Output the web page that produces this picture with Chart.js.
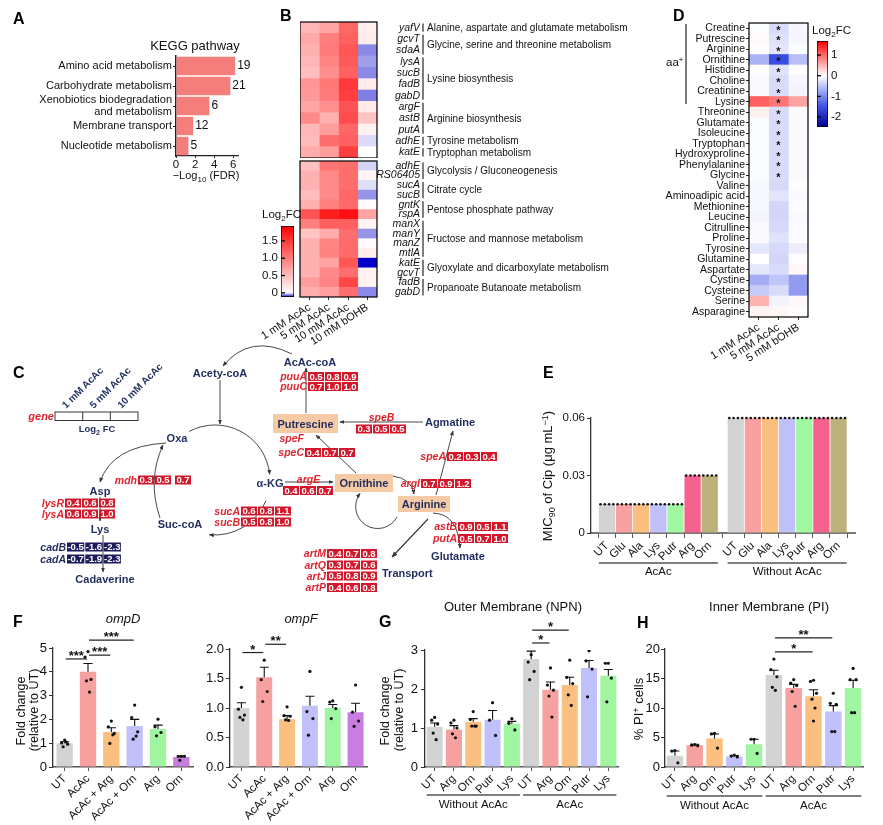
<!DOCTYPE html>
<html><head><meta charset="utf-8"><title>Figure</title>
<script src="https://cdn.jsdelivr.net/npm/chart.js@4.4.1/dist/chart.umd.min.js"></script>
<style>
html,body{margin:0;padding:0;background:#fff}
#page{position:relative;width:883px;height:825px;overflow:hidden;background:#fff}
#page>div{position:absolute}
#ov{position:absolute;left:0;top:0;pointer-events:none}
</style></head>
<body><div id="page"></div>
<script>
// ================= DATA =================
// A: KEGG pathway enrichment
const keggPathways = ['Amino acid metabolism','Carbohydrate metabolism',['Xenobiotics biodegradation','and metabolism'],'Membrane transport','Nucleotide metabolism'];
const keggLog10FDR = [6.2, 5.7, 3.5, 1.8, 1.3];
const keggGeneCounts = [19, 21, 6, 12, 5];
const aTicks = [0, 2, 4, 6];

// B: transcript heatmap (Log2FC)
const heatCols = ['1 mM AcAc','5 mM AcAc','10 mM AcAc','10 mM bOHB'];
const bTopGenes = ['yafV','gcvT','sdaA','lysA','sucB','fadB','gabD','argF','astB','putA','adhE','katE'];
const bTop_1mM  = [0.55,0.65,0.6,0.55,0.5,0.8,0.77,0.68,0.9,0.55,0.52,0.63];
const bTop_5mM  = [0.68,0.98,1.0,0.92,0.85,1.02,1.0,0.85,0.6,0.75,1.1,0.75];
const bTop_10mM = [1.15,1.2,1.28,1.25,1.2,1.5,1.45,1.3,1.35,1.15,1.2,1.45];
const bTop_bOHB = [0.12,0.13,-0.055,-0.045,-0.055,0.15,-0.06,0.15,0.45,0.1,-0.017,0.0];
const bBotGenes = ['adhE','RS06405','sucA','sucB','gntK','rspA','manX','manY','manZ','mtlA','katE','gcvT','fadB','gabD'];
const bBot_1mM  = [0.48,0.6,0.6,0.5,0.6,1.3,0.98,0.45,0.6,0.6,0.6,0.6,0.75,0.62];
const bBot_5mM  = [1.05,0.9,0.9,0.88,0.98,1.7,1.2,0.63,0.92,0.95,0.7,0.9,0.92,0.72];
const bBot_10mM = [1.1,1.1,1.1,1.15,1.12,1.82,1.2,1.1,1.12,1.12,1.28,1.1,1.4,1.1];
const bBot_bOHB = [-0.02,0.08,-0.015,-0.05,0.03,0.7,0.08,-0.05,0.03,0.12,-0.12,0.1,0.1,-0.055];
const bTopPathways = [['Alanine, aspartate and glutamate metabolism',0,1],['Glycine, serine and threonine metabolism',1,2],['Lysine biosynthesis',3,4],['Arginine biosynthesis',7,3],['Tyrosine metabolism',10,1],['Tryptophan metabolism',11,1]];
const bBotPathways = [['Glycolysis / Gluconeogenesis',0,2],['Citrate cycle',2,2],['Pentose phosphate pathway',4,2],['Fructose and mannose metabolism',6,4],['Glyoxylate and dicarboxylate metabolism',10,2],['Propanoate Butanoate metabolism',12,2]];
const bScaleTicks = [0, 0.5, 1.0, 1.5];
const bScaleLabels = ['0','0.5','1.0','1.5'];

// C: pathway Log2FC (1, 5, 10 mM AcAc)
const cLegendCols = ['1 mM AcAc','5 mM AcAc','10 mM AcAc'];
const fc_puuA=[0.5,0.8,0.9], fc_puuC=[0.7,1.0,1.0], fc_speB=[0.3,0.5,0.5], fc_speC=[0.4,0.7,0.7];
const fc_speA=[0.2,0.3,0.4], fc_argE=[0.4,0.6,0.7], fc_argI=[0.7,0.9,1.2], fc_astB=[0.9,0.5,1.1];
const fc_putA=[0.5,0.7,1.0], fc_artM=[0.4,0.7,0.8], fc_artQ=[0.3,0.7,0.6], fc_artJ=[0.5,0.8,0.9];
const fc_artP=[0.4,0.6,0.8], fc_mdh=[0.3,0.5,0.7], fc_lysR=[0.4,0.6,0.8], fc_lysA=[0.6,0.9,1.0];
const fc_cadB=[-0.5,-1.6,-2.3], fc_cadA=[-0.7,-1.9,-2.3], fc_sucA=[0.6,0.8,1.1], fc_sucB=[0.5,0.8,1.0];

// D: metabolite heatmap (Log2FC)
const dCols = ['1 mM AcAc','5 mM AcAc','5 mM bOHB'];
const dMetabolites = ['Creatine','Putrescine','Arginine','Ornithine','Histidine','Choline','Creatinine','Lysine','Threonine','Glutamate','Isoleucine','Tryptophan','Hydroxyproline','Phenylalanine','Glycine','Valine','Aminoadipic acid','Methionine','Leucine','Citrulline','Proline','Tyrosine','Glutamine','Aspartate','Cystine','Cysteine','Serine','Asparagine'];
const d_1mMAcAc = [-0.02,0.03,-0.01,-0.65,-0.01,-0.05,-0.05,1.05,0.1,-0.03,-0.03,-0.03,-0.03,-0.03,-0.03,-0.06,-0.06,-0.06,-0.1,-0.05,-0.05,-0.2,0.0,-0.2,-0.7,-0.45,0.5,0.08];
const d_5mMAcAc = [-0.3,-0.25,-0.22,-1.55,-0.25,-0.3,-0.3,0.9,-0.3,-0.3,-0.3,-0.3,-0.3,-0.3,-0.3,-0.32,-0.22,-0.35,-0.35,-0.32,-0.25,-0.32,-0.35,-0.3,-0.5,-0.3,-0.1,0.06];
const d_5mMbOHB = [-0.08,-0.08,-0.02,-0.55,-0.02,-0.08,-0.1,0.6,-0.05,-0.05,-0.05,-0.05,-0.05,-0.05,-0.05,-0.01,-0.04,-0.03,-0.04,-0.03,-0.03,-0.15,-0.02,0.05,-0.85,-0.85,0.05,0.02];
const d_5mMSig = ['*','*','*','*','*','*','*','*','*','*','*','*','*','*','*','','','','','','','','','','','','',''];
const dScaleTicks = [1, 0, -1, -2];
const dScaleLabels = ['1','0','-1','-2'];

// E: MIC90 of Cip
const eLabels = ['UT','Glu','Ala','Lys','Putr','Arg','Orn','UT','Glu','Ala','Lys','Putr','Arg','Orn'];
const eValues = [0.015,0.015,0.015,0.015,0.015,0.03,0.03,0.06,0.06,0.06,0.06,0.06,0.06,0.06];
const eReplicates = [4,4,4,4,4,4,4,4,4,4,4,4,4,4];
const eGroups = [['AcAc',0,6],['Without AcAc',7,13]];
const eTicks = [0, 0.03, 0.06];
const eTickLabels = ['0','0.03','0.06'];

// F: qPCR
const fCats = ['UT','AcAc','AcAc + Arg','AcAc + Orn','Arg','Orn'];
const ompDMean = [1.0, 4.0, 1.47, 1.72, 1.6, 0.42];
const ompDSem  = [0.06, 0.35, 0.18, 0.28, 0.16, 0.04];
const ompDPoints = [[1.13,1.01,0.96,0.85,1.05],[4.85,4.62,3.68,3.62,3.15],[1.93,1.69,1.41,0.99,1.35],[2.6,2.08,1.48,1.17,1.3],[2.01,1.69,1.45,1.31],[0.45,0.45,0.45,0.28]];
const ompDSig = [[0,1,4.54,'***'],[1,2,4.7,'***'],[1,3,5.33,'***']];
const ompDTicks = [0,1,2,3,4,5], ompDTickLabels = ['0','1','2','3','4','5'];
const ompFMean = [1.0, 1.52, 0.81, 1.04, 1.0, 0.93];
const ompFSem  = [0.09, 0.17, 0.06, 0.16, 0.06, 0.15];
const ompFPoints = [[1.35,0.98,0.88,0.84,0.8],[1.81,1.48,1.28,1.11],[1.02,0.87,0.86,0.8,0.79],[1.62,0.94,0.82,0.54],[1.12,1.1,0.99,0.82],[1.39,0.93,0.78,0.69]];
const ompFSig = [[0,1,1.94,'*'],[1,2,2.08,'**']];
const ompFTicks = [0,0.5,1,1.5,2], ompFTickLabels = ['0.0','0.5','1.0','1.5','2.0'];

// G: outer membrane (NPN)
const memCats = ['UT','Arg','Orn','Putr','Lys','UT','Arg','Orn','Putr','Lys'];
const memGroups = [['Without AcAc',0,4],['AcAc',5,9]];
const npnMean = [1.03,0.96,1.16,1.21,1.11,2.77,1.98,2.1,2.54,2.34];
const npnSem  = [0.1,0.1,0.08,0.24,0.06,0.2,0.2,0.2,0.19,0.16];
const npnPoints = [[1.27,1.2,1.1,0.87,0.7],[1.2,1.13,1.0,0.85,0.75],[1.42,1.22,1.05,1.05,1.05],[1.65,1.2,0.81],[1.24,1.12,0.95],[2.88,2.69,2.45,2.24],[2.54,2.1,1.97,1.82,1.28],[2.74,2.3,2.14,1.85,1.58],[2.98,2.72,2.51,1.8],[2.66,2.66,2.28,1.67]];
const npnSig = [[5,6,3.18,'*'],[5,7,3.51,'*']];
const npnTicks = [0,1,2,3], npnTickLabels = ['0','1','2','3'];

// H: inner membrane (PI)
const piMean = [1.9,3.7,4.85,1.8,3.85,15.6,13.4,12.0,9.4,13.4];
const piSem  = [0.8,0.15,0.75,0.15,0.85,0.8,0.6,1.1,1.0,1.3];
const piPoints = [[2.8,2.7,0.7],[3.8,3.7,3.6],[5.7,5.6,3.2],[2.0,1.85,1.7],[4.7,4.7,2.3],[18.3,16.5,15.3,13.5,13.0],[14.8,14.2,13.8,12.8,10.3],[14.7,14.5,12.5,11.5,10.0,7.8],[12.5,10.8,10.6,6.0,6.0],[16.7,14.8,14.8,9.2,9.2]];
const piSig = [[5,7,19.5,'*'],[5,8,21.9,'**']];
const piTicks = [0,5,10,15,20], piTickLabels = ['0','5','10','15','20'];

// ================= STYLE / HELPERS =================
const FONT = '"Liberation Sans", Arial, Helvetica, sans-serif';
const page = document.getElementById('page');
Chart.defaults.font.family = FONT;
Chart.defaults.color = '#111';
Chart.defaults.animation = false;
Chart.defaults.responsive = true;
Chart.defaults.maintainAspectRatio = false;
Chart.defaults.events = [];
Chart.defaults.plugins.legend.display = false;
Chart.defaults.plugins.tooltip.enabled = false;

const fitW = w => s => { s.width = w; s.paddingLeft = s.paddingRight = s.paddingTop = s.paddingBottom = 0; };
const fitH = h => s => { s.height = h; s.paddingLeft = s.paddingRight = s.paddingTop = s.paddingBottom = 0; };

function holder(p, pad){
  const d = document.createElement('div');
  d.style.left = (p.x0 - pad.l) + 'px'; d.style.top = (p.y0 - pad.t) + 'px';
  d.style.width = (p.x1 - p.x0 + pad.l + pad.r) + 'px'; d.style.height = (p.y1 - p.y0 + pad.t + pad.b) + 'px';
  const c = document.createElement('canvas'); d.appendChild(c); page.appendChild(d); return c;
}
const rgb = (r,g,b) => `rgb(${Math.round(r)},${Math.round(g)},${Math.round(b)})`;
const B_MIN = -0.12, B_MAX = 1.93, D_MIN = -2.48, D_MAX = 1.68;
function colB(v){
  if (v >= 0){ const t = Math.min(v / B_MAX, 1); return rgb(255, 255*(1-t), 255*(1-t)); }
  const t = Math.min(-v / -B_MIN, 1); return rgb(255*(1-t), 255*(1-t), 255 - 55*t);
}
function colD(v){
  if (v >= 0){ const t = Math.min(v / D_MAX, 1); return rgb(255, 255*(1-t), 255*(1-t)); }
  const a = -v;
  if (a <= 1.5){ const t = a / 1.5; return rgb(255-195*t, 255-175*t, 255-25*t); }
  const t = Math.min((a-1.5)/(-D_MIN-1.5), 1); return rgb(60-60*t, 80-80*t, 230-90*t);
}

const framePlugin = {id:'frame', afterDatasetsDraw(ch){ const a = ch.chartArea, ctx = ch.ctx; ctx.save(); ctx.strokeStyle = '#000'; ctx.lineWidth = 1.2; ctx.strokeRect(a.left, a.top, a.right-a.left, a.bottom-a.top); ctx.restore(); }};

function pathwayPlugin(groups){
  return {id:'pw', afterDraw(ch){
    const ctx = ch.ctx, y = ch.scales.y, a = ch.chartArea, n = ch.data.labels.length, h = (a.bottom-a.top)/n, x = a.right + 46;
    ctx.save(); ctx.strokeStyle = '#111'; ctx.lineWidth = 1.1; ctx.fillStyle = '#111'; ctx.font = '10px ' + FONT; ctx.textBaseline = 'middle';
    groups.forEach(([label, start, count]) => {
      const t = y.getPixelForValue(start) - h/2 + 1.5, b = y.getPixelForValue(start+count-1) + h/2 - 1.5;
      ctx.beginPath(); ctx.moveTo(x, t); ctx.lineTo(x, b); ctx.stroke();
      ctx.fillText(label, x + 4, (t+b)/2 + 0.5);
    });
    ctx.restore();
  }};
}

function heat(o){
  const c = holder(o.plot, o.pad);
  const left = o.yPos === 'left';
  return new Chart(c, {
    type:'bar',
    data:{labels:o.rows, datasets:o.cols.map(col => ({data:col.map(() => 1), backgroundColor:col.map(o.colorFn), barPercentage:1, categoryPercentage:1, borderWidth:0}))},
    options:{indexAxis:'y',
      layout:{padding:{top:o.pad.t, left:left ? 0 : o.padL, right:left ? o.pad.r : o.padR, bottom:o.showX ? 0 : o.pad.b}},
      scales:{
        x:{type:'linear', stacked:true, min:0, max:o.cols.length, display:o.showX,
          afterBuildTicks:s => { s.ticks = o.cols.map((_, i) => ({value:i + 0.5})); },
          ticks:{callback:(v, i) => o.xLabels[i], minRotation:o.rot, maxRotation:o.rot, autoSkip:false, font:{size:11}, padding:1},
          grid:{drawOnChartArea:false, tickLength:3, color:'#222'}, border:{display:false}, afterFit:fitH(o.pad.b)},
        y:{type:'category', position:o.yPos, stacked:true,
          ticks:{font:{size:10.5, style:o.italic ? 'italic' : 'normal'}, autoSkip:false, padding:o.yPad, crossAlign:left ? 'near' : 'far'},
          grid:{display:o.yTicks, drawTicks:o.yTicks, drawOnChartArea:false, tickLength:3, color:'#222', offset:false}, border:{display:false}, afterFit:fitW(o.yW)}
      }},
    plugins:[framePlugin].concat(o.plugins || [])
  });
}

const cbDash = {id:'cbdash', afterDatasetsDraw(ch){
  const a = ch.chartArea, y = ch.scales.y, ctx = ch.ctx;
  ctx.save(); ctx.strokeStyle = '#000'; ctx.lineWidth = 1.3;
  y.ticks.forEach(t => { const py = y.getPixelForValue(t.value); ctx.beginPath(); ctx.moveTo(a.left, py); ctx.lineTo(a.left + 4, py); ctx.stroke(); });
  ctx.restore();
}};
function colorbar(plot, pad, min, max, ticks, labels, colorFn, side){
  const c = holder(plot, pad);
  return new Chart(c, {type:'bar',
    data:{labels:[''], datasets:[{data:[[min, max]],
      backgroundColor:(ctx) => { const ch = ctx.chart; if (!ch.chartArea) return '#fff'; const y = ch.scales.y;
        const g = ch.ctx.createLinearGradient(0, y.getPixelForValue(min), 0, y.getPixelForValue(max));
        for (let k = 0; k <= 40; k++) g.addColorStop(k/40, colorFn(min + (max-min)*k/40)); return g; },
      borderColor:'#000', borderWidth:1, borderSkipped:false, barPercentage:1, categoryPercentage:1}]},
    options:{layout:{padding:{top:pad.t, bottom:pad.b, left:side === 'left' ? 0 : pad.l, right:side === 'right' ? 0 : pad.r}},
      scales:{x:{display:false},
        y:{position:side, min, max, afterBuildTicks:s => { s.ticks = ticks.map(v => ({value:v})); },
          ticks:{callback:(v, i) => labels[i], font:{size:11.5}, padding:3}, grid:{display:false, drawTicks:false}, border:{display:false},
          afterFit:fitW(side === 'left' ? pad.l : pad.r)}}},
    plugins:[cbDash]});
}

function groupPlugin(groups, barIdx, lineDy, textDy){
  return {id:'grp', afterDraw(ch){
    const m = ch.getDatasetMeta(barIdx), a = ch.chartArea, ctx = ch.ctx;
    ctx.save(); ctx.strokeStyle = '#555'; ctx.lineWidth = 1.5; ctx.fillStyle = '#111'; ctx.font = '11.5px ' + FONT; ctx.textAlign = 'center';
    groups.forEach(([lab, f, t]) => {
      const b0 = m.data[f], b1 = m.data[t]; const x0 = b0.x - b0.width/2, x1 = b1.x + b1.width/2, yy = a.bottom + lineDy;
      ctx.beginPath(); ctx.moveTo(x0, yy); ctx.lineTo(x1, yy); ctx.stroke();
      ctx.fillText(lab, (x0+x1)/2, yy + textDy);
    });
    ctx.restore();
  }};
}
function sigPlugin(list){
  return {id:'sig', afterDraw(ch){
    const x = ch.scales.x, y = ch.scales.y, ctx = ch.ctx;
    ctx.save(); ctx.strokeStyle = '#222'; ctx.lineWidth = 1.2; ctx.fillStyle = '#111'; ctx.font = 'bold 13px ' + FONT; ctx.textAlign = 'center';
    list.forEach(([a, b, v, lab]) => {
      const xa = x.getPixelForValue(a) + 1, xb = x.getPixelForValue(b) - 1, yy = y.getPixelForValue(v);
      ctx.beginPath(); ctx.moveTo(xa, yy); ctx.lineTo(xb, yy); ctx.stroke();
      ctx.fillText(lab, (xa+xb)/2, yy + 1);
    });
    ctx.restore();
  }};
}

const JIT = [0, -3, 3, -1.5, 1.5, 0];
function dotBar(o){
  const c = holder(o.plot, o.pad);
  const pts = [], jit = [];
  o.points.forEach((arr, i) => arr.forEach((v, k) => { pts.push({x:i, y:v}); jit.push(JIT[k % JIT.length]); }));
  const plugins = [
    {id:'jit', afterDatasetsUpdate(ch){ ch.getDatasetMeta(0).data.forEach((p, k) => { p.x += jit[k]; }); }},
    {id:'err', afterDatasetDraw(ch, args){
      if (args.index !== 1) return;
      const m = ch.getDatasetMeta(1), y = ch.scales.y, ctx = ch.ctx;
      ctx.save(); ctx.strokeStyle = '#111'; ctx.lineWidth = 1.1;
      m.data.forEach((b, i) => { const top = y.getPixelForValue(o.mean[i] + o.sem[i]); const hw = b.width * 0.28;
        ctx.beginPath(); ctx.moveTo(b.x, b.y); ctx.lineTo(b.x, top); ctx.moveTo(b.x - hw, top); ctx.lineTo(b.x + hw, top); ctx.stroke(); });
      ctx.restore(); }},
    sigPlugin(o.sig)
  ];
  if (o.groups) plugins.push(groupPlugin(o.groups, 1, o.gDy, 13));
  return new Chart(c, {
    type:'bar',
    data:{labels:o.cats, datasets:[
      {type:'scatter', parsing:false, data:pts, pointRadius:1.6, pointBackgroundColor:'#111', pointBorderWidth:0, order:0},
      {type:'bar', data:o.mean, backgroundColor:o.colors, barPercentage:o.barPct, categoryPercentage:1, order:1}
    ]},
    options:{layout:{padding:{top:o.pad.t, right:o.pad.r, left:0, bottom:0}},
      scales:{
        x:{type:'category', offset:true, grid:{drawOnChartArea:false, tickLength:4, color:'#555', offset:false}, border:{color:'#555', width:1.6},
          ticks:{minRotation:45, maxRotation:45, autoSkip:false, font:{size:11.5}, padding:1}, afterFit:fitH(o.pad.b)},
        y:{type:'linear', min:o.yMin, max:o.yMax, afterBuildTicks:s => { s.ticks = o.yTicks.map(v => ({value:v})); },
          ticks:{callback:(v, i) => o.yLabels[i], font:{size:13}, padding:o.yPad},
          grid:{drawOnChartArea:false, tickLength:4, color:'#333'}, border:{color:'#333', width:1.3}, afterFit:fitW(o.pad.l)}
      }},
    plugins
  });
}

// ================= A =================
const aPlot = {x0:176, y0:56, x1:238, y1:156}, aPad = {l:176, t:4, r:14, b:20};
new Chart(holder(aPlot, aPad), {
  type:'bar',
  data:{labels:keggPathways, datasets:[{data:keggLog10FDR, backgroundColor:'#f37e7b', barPercentage:0.92, categoryPercentage:1}]},
  options:{indexAxis:'y', layout:{padding:{top:aPad.t, right:aPad.r, left:0, bottom:0}},
    scales:{
      x:{type:'linear', min:0, max:6.5, afterBuildTicks:s => { s.ticks = aTicks.map(v => ({value:v})); }, ticks:{font:{size:11.5}, padding:0},
        grid:{drawOnChartArea:false, tickLength:2, color:'#222'}, border:{color:'#222', width:1.2}, afterFit:fitH(aPad.b)},
      y:{ticks:{font:{size:11, lineHeight:1.05}, padding:1, autoSkip:false}, grid:{drawOnChartArea:false, tickLength:3, color:'#222', offset:false},
        border:{color:'#222', width:1.5}, afterFit:fitW(aPad.l)}
    }},
  plugins:[{id:'cnt', afterDatasetsDraw(ch){ const ctx = ch.ctx; ctx.save(); ctx.font = '12px ' + FONT; ctx.fillStyle = '#111'; ctx.textBaseline = 'middle';
    ch.getDatasetMeta(0).data.forEach((b, i) => ctx.fillText(String(keggGeneCounts[i]), b.x + 2, b.y)); ctx.restore(); }}]
});

// ================= B =================
heat({plot:{x0:300, y0:22, x1:377, y1:158}, pad:{l:0, t:2, r:265, b:0}, padR:222, padL:0, yPos:'right', yW:43, yPad:0, italic:true, yTicks:false,
  rows:bTopGenes, cols:[bTop_1mM, bTop_5mM, bTop_10mM, bTop_bOHB], colorFn:colB, showX:false, xLabels:heatCols, rot:33,
  plugins:[pathwayPlugin(bTopPathways)]});
heat({plot:{x0:300, y0:161, x1:377, y1:297}, pad:{l:46, t:2, r:265, b:48}, padR:222, padL:46, yPos:'right', yW:43, yPad:0, italic:true, yTicks:false,
  rows:bBotGenes, cols:[bBot_1mM, bBot_5mM, bBot_10mM, bBot_bOHB], colorFn:colB, showX:true, xLabels:heatCols, rot:33,
  plugins:[pathwayPlugin(bBotPathways)]});
colorbar({x0:281, y0:226, x1:294, y1:297}, {l:22, t:6, r:2, b:6}, B_MIN, B_MAX, bScaleTicks, bScaleLabels, colB, 'left');

// ================= D =================
const dAster = {id:'aster', afterDatasetsDraw(ch){
  const x = ch.scales.x, y = ch.scales.y, ctx = ch.ctx; ctx.save(); ctx.font = 'bold 11px ' + FONT; ctx.fillStyle = '#111'; ctx.textAlign = 'center'; ctx.textBaseline = 'middle';
  d_5mMSig.forEach((s, i) => { if (s) ctx.fillText(s, x.getPixelForValue(1.5), y.getPixelForValue(i) + 2.5); }); ctx.restore(); }};
heat({plot:{x0:749, y0:23, x1:808, y1:317}, pad:{l:89, t:2, r:3, b:50}, padR:0, padL:0, yPos:'left', yW:89, yPad:1, italic:false, yTicks:true,
  rows:dMetabolites, cols:[d_1mMAcAc, d_5mMAcAc, d_5mMbOHB], colorFn:colD, showX:true, xLabels:dCols, rot:33, plugins:[dAster]});
colorbar({x0:817, y0:41, x1:828, y1:127}, {l:2, t:6, r:22, b:6}, D_MIN, D_MAX, dScaleTicks, dScaleLabels, colD, 'right');

// ================= E =================
const eColor = {UT:'#d3d3d3', Glu:'#f9a0a0', Ala:'#fbbf80', Lys:'#c0c0fa', Putr:'#a0f8a0', Arg:'#f5628e', Orn:'#bdb27c'};
const eGap = 0.52;
const eXpos = eLabels.map((_, i) => i + (i > eGroups[0][2] ? eGap : 0));
const ePlot = {x0:591, y0:418, x1:855, y1:533}, ePad = {l:32, t:8, r:8, b:46};
const eDots = {id:'edots', afterDatasetsDraw(ch){ const ctx = ch.ctx; ctx.save(); ctx.fillStyle = '#111';
  ch.getDatasetMeta(0).data.forEach((b, i) => { const n = eReplicates[i]; for (let k = 0; k < n; k++){ ctx.beginPath(); ctx.arc(b.x + (k - (n-1)/2) * 4.3, b.y, 1.3, 0, Math.PI*2); ctx.fill(); } });
  ctx.restore(); }};
new Chart(holder(ePlot, ePad), {type:'bar',
  data:{datasets:[{data:eValues.map((v, i) => ({x:eXpos[i], y:v})), backgroundColor:eLabels.map(l => eColor[l]), barPercentage:0.95, categoryPercentage:1}]},
  options:{layout:{padding:{top:ePad.t, right:ePad.r, left:0, bottom:0}},
    scales:{
      x:{type:'linear', min:-0.93, max:14.48, offset:false, afterBuildTicks:s => { s.ticks = eXpos.map(v => ({value:v})); },
        ticks:{callback:(v, i) => eLabels[i], minRotation:45, maxRotation:45, autoSkip:false, font:{size:11.5}, padding:1},
        grid:{drawOnChartArea:false, tickLength:5, color:'#555'}, border:{color:'#777', width:2}, afterFit:fitH(ePad.b)},
      y:{min:0, max:0.06, afterBuildTicks:s => { s.ticks = eTicks.map(v => ({value:v})); }, ticks:{callback:(v, i) => eTickLabels[i], font:{size:11.5}, padding:2},
        grid:{drawOnChartArea:false, tickLength:4, color:'#333'}, border:{color:'#333', width:1.3}, afterFit:fitW(ePad.l)}
    }},
  plugins:[eDots, groupPlugin(eGroups, 0, 30, 12)]});

// ================= F, G, H =================
const fColors = ['#d3d3d3','#f7a0a0','#fbbf80','#c0c0fa','#a0f5a0','#c97de0'];
const memColors = ['#d3d3d3','#f7a0a0','#fbbf80','#c0c0fa','#a0f5a0','#d3d3d3','#f7a0a0','#fbbf80','#c0c0fa','#a0f5a0'];
dotBar({plot:{x0:53, y0:648, x1:193, y1:767}, pad:{l:20, t:26, r:8, b:58}, cats:fCats, mean:ompDMean, sem:ompDSem, points:ompDPoints,
  colors:fColors, barPct:0.7, yMin:0, yMax:5, yTicks:ompDTicks, yLabels:ompDTickLabels, yPad:2, sig:ompDSig});
dotBar({plot:{x0:230, y0:649, x1:367, y1:767}, pad:{l:30, t:26, r:8, b:58}, cats:fCats, mean:ompFMean, sem:ompFSem, points:ompFPoints,
  colors:fColors, barPct:0.7, yMin:0, yMax:2, yTicks:ompFTicks, yLabels:ompFTickLabels, yPad:2, sig:ompFSig});
dotBar({plot:{x0:425, y0:650, x1:618, y1:767}, pad:{l:16, t:32, r:6, b:50}, cats:memCats, mean:npnMean, sem:npnSem, points:npnPoints,
  colors:memColors, barPct:0.83, yMin:0, yMax:3, yTicks:npnTicks, yLabels:npnTickLabels, yPad:3, sig:npnSig, groups:memGroups, gDy:28});
dotBar({plot:{x0:665, y0:649, x1:863, y1:767}, pad:{l:26, t:34, r:8, b:50}, cats:memCats, mean:piMean, sem:piSem, points:piPoints,
  colors:memColors, barPct:0.83, yMin:0, yMax:20, yTicks:piTicks, yLabels:piTickLabels, yPad:1, sig:piSig, groups:memGroups, gDy:29});

// ================= OVERLAY TEXT + PANEL C DIAGRAM =================
let svg = '';
const T = (x, y, s, a = {}) => { svg += `<text x="${x}" y="${y}" font-size="${a.size || 11}" font-weight="${a.w || 'normal'}" font-style="${a.it ? 'italic' : 'normal'}" fill="${a.fill || '#111'}" text-anchor="${a.anc || 'start'}"${a.rot ? ` transform="rotate(${a.rot} ${x} ${y})"` : ''}>${s}</text>`; };
const P = (d, a = {}) => { svg += `<path d="${d}" fill="none" stroke="${a.stroke || '#333'}" stroke-width="${a.sw || 0.9}"${a.arrow ? ' marker-end="url(#ah)"' : ''}/>`; };
const R = (x, y, w, h, fill, stroke) => { svg += `<rect x="${x}" y="${y}" width="${w}" height="${h}" fill="${fill}"${stroke ? ` stroke="${stroke}" stroke-width="0.9"` : ''}/>`; };

// panel letters
[['A',13,23.5],['B',280,21],['D',673,21],['C',13,378],['E',543,378],['F',13,627],['G',379,627],['H',637,628]].forEach(([l,x,y]) => T(x, y, l, {size:16, w:'bold', fill:'#000'}));
// A titles
T(195, 50, 'KEGG pathway', {size:13, anc:'middle'});
T(206, 179, '−Log<tspan dy="3" font-size="8">10</tspan><tspan dy="-3"> (FDR)</tspan>', {size:11, anc:'middle'});
// B colorbar title
T(262, 218, 'Log<tspan dy="3" font-size="8">2</tspan><tspan dy="-3">FC</tspan>', {size:11.5});
// D
T(812, 34, 'Log<tspan dy="3" font-size="8">2</tspan><tspan dy="-3">FC</tspan>', {size:11.5});
T(666, 66, 'aa<tspan dy="-4" font-size="8">+</tspan>', {size:11.5});
P('M686,24 L686,104', {stroke:'#111', sw:1.1});
// E
T(552, 476, 'MIC<tspan dy="3" font-size="9">90</tspan><tspan dy="-3"> of Cip (μg mL</tspan><tspan dy="-4" font-size="9">−1</tspan><tspan dy="4">)</tspan>', {size:13, anc:'middle', rot:-90});
// F
T(123, 623, 'ompD', {size:13, it:true, anc:'middle'});
T(301, 623, 'ompF', {size:13, it:true, anc:'middle'});
T(25, 711, 'Fold change', {size:12.5, anc:'middle', rot:-90});
T(38, 710, '(relative to UT)', {size:12.5, anc:'middle', rot:-90});
// G
T(513, 611, 'Outer Membrane (NPN)', {size:13, anc:'middle'});
T(389, 711, 'Fold change', {size:12.5, anc:'middle', rot:-90});
T(403, 710, '(relative to UT)', {size:12.5, anc:'middle', rot:-90});
// H
T(769, 611, 'Inner Membrane (PI)', {size:13, anc:'middle'});
T(643, 709, '% PI<tspan dy="-4" font-size="9">+</tspan><tspan dy="4"> cells</tspan>', {size:13, anc:'middle', rot:-90});

// ---- Panel C diagram ----
const NAVY = '#1f2d5e', RED = '#d3182b', REDT = '#df2530', BEIGE = '#f6caa5', NBOX = '#1d1b5c';
// legend
R(55, 412, 83, 8.5, '#fff', '#222');
P('M82.7,412 L82.7,420.5', {stroke:'#222', sw:0.9}); P('M110.3,412 L110.3,420.5', {stroke:'#222', sw:0.9});
cLegendCols.forEach((s, k) => T(66 + 27.7*k, 409, s, {size:10, w:'bold', fill:NAVY, rot:-45}));
T(54, 420, 'gene', {size:11, w:'bold', it:true, fill:REDT, anc:'end'});
T(97, 432, 'Log<tspan dy="2.5" font-size="7">2</tspan><tspan dy="-2.5"> FC</tspan>', {size:9.5, w:'bold', fill:NAVY, anc:'middle'});
// arrows
P('M220,380 L220,424', {arrow:true});
P('M189.2,431.4 A55,55 0 0 1 269.7,474.3', {arrow:true});
P('M266,500.6 A55,55 0 0 1 209.3,534.7', {arrow:true});
P('M160,518 Q147,480 163,445', {arrow:true});
P('M166,443 Q112,446 100,482', {arrow:true});
P('M100,497 L100,521', {arrow:true});
P('M103,535 L103,572', {arrow:true});
P('M292,354 Q250,333 223,366', {arrow:true});
P('M306,413 L306,368', {arrow:true});
P('M423,422 L340,422', {arrow:true});
P('M356,473 L316,435', {arrow:true});
P('M285,482 L333,482', {arrow:true});
P('M393,476 Q412,479 414,494', {arrow:true});
P('M436,495 L453,431', {arrow:true});
P('M433,513 Q458,514 460,548', {arrow:true});
P('M428,519 L392,557', {arrow:true, sw:1.1});
P('M397,517 A22,22 0 1 1 360,493.4', {arrow:true});
// beige boxes
R(273, 414, 65, 19, BEIGE); R(335, 474, 58, 18, BEIGE); R(398, 496, 52, 16, BEIGE);
// metabolites
[['Acety-coA',220,377],['AcAc-coA',310,366],['Oxa',177,442],['α-KG',270,487],['Asp',100,495],['Lys',100,533],['Cadaverine',105,583],
 ['Suc-coA',180,528],['Agmatine',450,426],['Glutamate',458,560],['Putrescine',305.5,427.5],['Ornithine',364,487],['Arginine',424,508]]
 .forEach(([s,x,y]) => T(x, y, s, {size:11, w:'bold', fill:NAVY, anc:'middle'}));
T(382, 577, 'Transport', {size:11, w:'bold', fill:NAVY});
// genes with Log2FC boxes
const cRows = [
 ['puuA',fc_puuA,308,376.5], ['puuC',fc_puuC,308,386.5], ['speB',fc_speB,356,429,'above'], ['speC',fc_speC,305,452.5],
 ['speA',fc_speA,447,456.5], ['argE',fc_argE,283,490.5,'above'], ['argI',fc_argI,421,483.5],
 ['astB',fc_astB,458,526.5], ['putA',fc_putA,458,538.5],
 ['artM',fc_artM,327,553.5], ['artQ',fc_artQ,327,565], ['artJ',fc_artJ,327,576], ['artP',fc_artP,327,587.5],
 ['mdh',fc_mdh,138,480,'gap'], ['lysR',fc_lysR,65,503], ['lysA',fc_lysA,65,514],
 ['cadB',fc_cadB,67,547,'navy'], ['cadA',fc_cadA,67,559,'navy'], ['sucA',fc_sucA,241,511], ['sucB',fc_sucB,241,522]];
cRows.forEach(([g, vals, x, y, mode]) => {
  const navy = mode === 'navy', w = navy ? 18.3 : 17, h = 9;
  let bx = x;
  vals.forEach((v, k) => {
    if (mode === 'gap' && k === 2) bx += 3;
    R(bx, y - h/2, w - 1, h, navy ? NBOX : RED);
    T(bx + (w-1)/2, y + 3.3, v.toFixed(1), {size:9.5, w:'bold', fill:'#fff', anc:'middle'});
    bx += w;
  });
  if (mode === 'above') T(x + (3*w)/2, y - 8, g, {size:10.5, w:'bold', it:true, fill:REDT, anc:'middle'});
  else T(x - 1, y + 3.5, g, {size:10.5, w:'bold', it:true, fill:navy ? NAVY : REDT, anc:'end'});
});
T(304, 441.5, 'speF', {size:10.5, w:'bold', it:true, fill:REDT, anc:'end'});

const ov = document.createElementNS('http://www.w3.org/2000/svg', 'svg');
ov.setAttribute('id', 'ov'); ov.setAttribute('width', '883'); ov.setAttribute('height', '825');
ov.setAttribute('font-family', FONT.replace(/"/g, "'"));
ov.innerHTML = '<defs><marker id="ah" viewBox="0 0 10 10" refX="9" refY="5" markerWidth="5.5" markerHeight="5.5" orient="auto"><path d="M0,1 L10,5 L0,9 z" fill="#333"/></marker></defs>' + svg;
page.appendChild(ov);
</script></body></html>
